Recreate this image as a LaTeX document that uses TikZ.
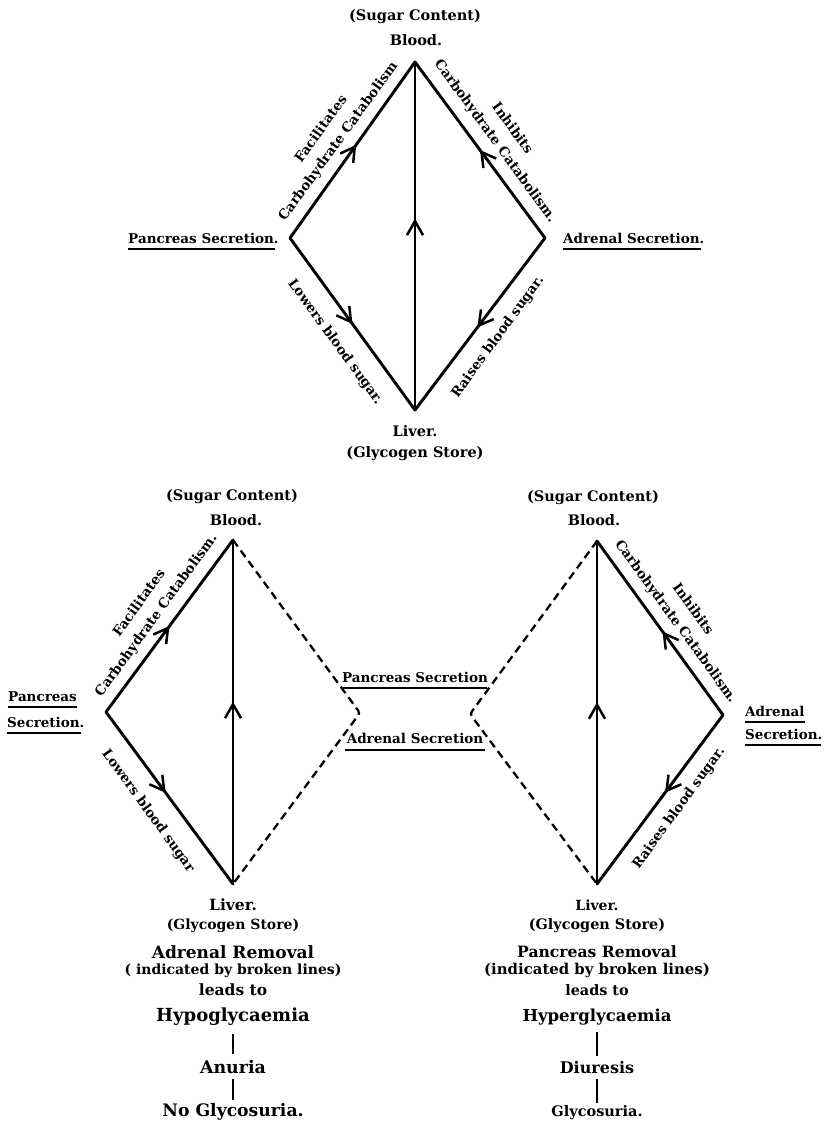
\documentclass[tikz,border=0pt]{standalone}
\usepackage{fontspec}
\setmainfont{DejaVu Serif}
\usetikzlibrary{arrows.meta,decorations.markings}
\tikzset{
  edge/.style={line width=2.9pt, line cap=round},
  brk/.style={line width=2.3pt, dash pattern=on 8pt off 5pt, rounded corners=3pt},
  midtip/.style={postaction={decorate,decoration={markings,
     mark=at position #1 with {\arrow{Straight Barb[length=14pt,width=16pt,line width=2.5pt]}}}}},
  lbl/.style={inner sep=0pt, align=center, font=\fontsize{13.5}{21}\selectfont\bfseries},
  ttl/.style={inner sep=0pt, font=\fontsize{14.5}{18}\selectfont\bfseries},
  big/.style={inner sep=0pt, font=\fontsize{#1}{#1}\selectfont\bfseries},
  ul/.style={line width=1.6pt},
  bar/.style={line width=2pt},
}
\begin{document}
\begin{tikzpicture}[x=1pt,y=-1pt]
\useasboundingbox (0,0) rectangle (839,1126);

% ================= TOP DIAMOND =================
\coordinate (tT) at (415,62);
\coordinate (tL) at (290,238);
\coordinate (tR) at (545,238);
\coordinate (tB) at (415,410);
\draw[edge,midtip=0.53] (tL) -- (tT);
\draw[edge,midtip=0.5] (tR) -- (tT);
\draw[edge,midtip=0.5] (tL) -- (tB);
\draw[edge,midtip=0.52] (tR) -- (tB);
\draw[edge,midtip=0.55] (tB) -- (tT);

\node[ttl] (tsug) at (415,17) {(Sugar Content)};
\node[ttl] (tblood) at (416,40) {Blood.};
\node[ttl] (tliver) at (415,431) {Liver.};
\node[ttl] (tglyc) at (415,454) {(Glycogen Store)};
\node[lbl,anchor=base west] (tpan) at (128,243) {Pancreas Secretion.};
\draw[ul] ([yshift=-6pt]tpan.base west) -- ([yshift=-6pt,xshift=-4pt]tpan.base east);
\node[lbl,anchor=base west] (tadr) at (563,243) {Adrenal Secretion.};
\draw[ul] ([yshift=-6pt]tadr.base west) -- ([yshift=-6pt,xshift=-4pt]tadr.base east);

\node[lbl,rotate=54] (tfac) at (330,135.5) {Facilitates\\Carbohydrate Catabolism};
\node[lbl,rotate=-54] (tinh) at (503.5,135) {Inhibits\\Carbohydrate Catabolism.};
\node[lbl,rotate=-54] (tlow) at (335,342) {Lowers blood sugar.};
\node[lbl,rotate=54] (trai) at (498,337) {Raises blood sugar.};

% ================= BOTTOM LEFT DIAMOND =================
\coordinate (lT) at (233,540);
\coordinate (lL) at (106,712);
\coordinate (lR) at (360,713);
\coordinate (lB) at (233,884);
\draw[edge,midtip=0.5] (lL) -- (lT);
\draw[edge,midtip=0.47] (lL) -- (lB);
\draw[edge,midtip=0.53] (lB) -- (lT);
\draw[brk] (lT) -- (lR) -- (lB);

\node[ttl] (lsug) at (232,497) {(Sugar Content)};
\node[ttl] (lblood) at (236,520) {Blood.};
\node[lbl,anchor=base west] (lpan1) at (8,701) {Pancreas};
\draw[ul] ([yshift=-6pt]lpan1.base west) -- ([yshift=-6pt]lpan1.base east);
\node[lbl,anchor=base west] (lpan2) at (7,727) {Secretion.};
\draw[ul] ([yshift=-6pt]lpan2.base west) -- ([yshift=-6pt,xshift=-4pt]lpan2.base east);
\node[lbl,rotate=54] (lfac) at (148,609.5) {Facilitates\\Carbohydrate Catabolism.};
\node[lbl,rotate=-54] (llow) at (148,811) {Lowers blood sugar};

% middle labels
\node[lbl] (mpan) at (415,677) {Pancreas Secretion};
\draw[ul] (343,688) -- (487,688);
\node[lbl] (madr) at (415,738) {Adrenal Secretion};
\draw[ul] (345,750) -- (485,750);

% ================= BOTTOM RIGHT DIAMOND =================
\coordinate (rT) at (597,541);
\coordinate (rL) at (470,714);
\coordinate (rR) at (723,715);
\coordinate (rB) at (597,884);
\draw[edge,midtip=0.48] (rR) -- (rT);
\draw[edge,midtip=0.46] (rR) -- (rB);
\draw[edge,midtip=0.53] (rB) -- (rT);
\draw[brk] (rT) -- (rL) -- (rB);

\node[ttl] (rsug) at (593,498) {(Sugar Content)};
\node[ttl] (rblood) at (594,520) {Blood.};
\node[lbl,anchor=base west] (radr1) at (745,716) {Adrenal};
\draw[ul] ([yshift=-6pt]radr1.base west) -- ([yshift=-6pt]radr1.base east);
\node[lbl,anchor=base west] (radr2) at (745,739) {Secretion.};
\draw[ul] ([yshift=-6pt]radr2.base west) -- ([yshift=-6pt,xshift=-2pt]radr2.base east);
\node[lbl,rotate=-54] (rinh) at (684,615.5) {Inhibits\\Carbohydrate Catabolism.};
\node[lbl,rotate=54] (rrai) at (679,808) {Raises blood sugar.};

% ================= BOTTOM TEXT COLUMNS =================
\node[big=15.5] (lliver) at (233,905) {Liver.};
\node[big=14] (lglyc) at (233,926) {(Glycogen Store)};
\node[big=17] (lrem) at (233,952) {Adrenal Removal};
\node[big=14] (lind) at (233,971) {( indicated by broken lines)};
\node[big=15.5] (llead) at (233,990) {leads to};
\node[big=18] (lhypo) at (233,1017) {Hypoglycaemia};
\node[big=17.4] (lanu) at (233,1067) {Anuria};
\node[big=17.2] (lno) at (233,1112) {No Glycosuria.};
\draw[bar,shorten <=8pt,shorten >=6pt] (lhypo) -- (lanu);
\draw[bar,shorten <=5pt,shorten >=3pt] (lanu) -- (lno);

\node[big=14] (rliver) at (597,905) {Liver.};
\node[big=14.4] (rglyc) at (597,926) {(Glycogen Store)};
\node[big=15.6] (rrem) at (597,952) {Pancreas Removal};
\node[big=14.9] (rind) at (597,970) {(indicated by broken lines)};
\node[big=14.4] (rlead) at (597,990) {leads to};
\node[big=16.5] (rhyper) at (597,1017) {Hyperglycaemia};
\node[big=16] (rdiu) at (597,1068) {Diuresis};
\node[big=14.5] (rgly) at (597,1113) {Glycosuria.};
\draw[bar,shorten <=7pt,shorten >=6pt] (rhyper) -- (rdiu);
\draw[bar,shorten <=5pt,shorten >=3pt] (rdiu) -- (rgly);
\end{tikzpicture}
\end{document}
